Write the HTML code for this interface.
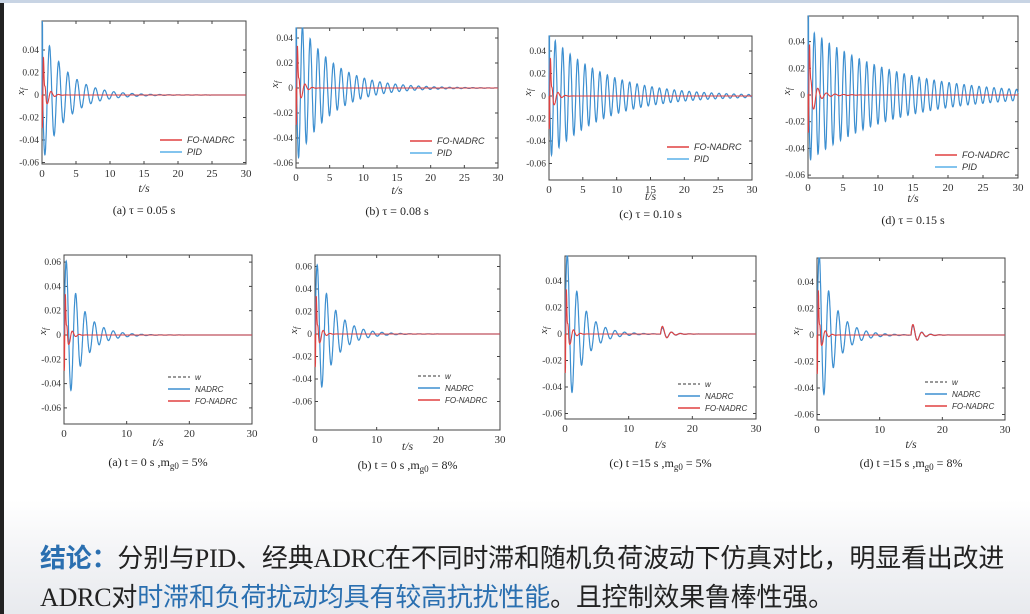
<!DOCTYPE html>
<html><head><meta charset="utf-8"><style>
html,body{margin:0;padding:0;}
body{width:1030px;height:614px;overflow:hidden;background:#fff;position:relative;font-family:"Liberation Serif","Noto Serif CJK SC",serif;}
#bot{position:absolute;left:0;top:500px;width:1030px;height:114px;background:linear-gradient(#fff,#f0f1f4 60%,#e8eaee);}
#edge{position:absolute;left:0;top:0;width:4px;height:614px;background:#222;}
#topl{position:absolute;left:0;top:0;width:1030px;height:3px;background:#c8d4e4;}
.t{position:absolute;font-family:"Liberation Serif","Noto Sans CJK SC",sans-serif;font-size:26px;color:#222;white-space:nowrap;letter-spacing:-0.2px;}
.b{color:#2a6fb0;font-weight:bold;}
.bl{color:#2a6fb0;}
svg{position:absolute;left:0;top:0;}
</style></head><body>
<div id="bot"></div><div id="edge"></div><div id="topl"></div>
<svg id="s" width="1030" height="500" font-family="Liberation Serif, serif"></svg>
<div class="t" style="left:40px;top:538px;"><span class="b">结论：</span>分别与PID、经典ADRC在不同时滞和随机负荷波动下仿真对比，明显看出改进</div>
<div class="t" style="left:40px;top:577px;">ADRC对<span class="bl">时滞和负荷扰动均具有较高抗扰性能</span>。且控制效果鲁棒性强。</div>
<script>
const s=document.getElementById('s');let h='';
function ch(c){
 const {x0,x1,y0,y1,yz,sc,ticks,cap,tsY,capY,leg,row}=c;
 const X=t=>x0+(x1-x0)*t/30, Y=v=>yz-v/0.02*sc;
 h+=`<rect x="${x0}" y="${y0}" width="${x1-x0}" height="${y1-y0}" fill="#fff" stroke="#444" stroke-width="1"/>`;
 const step=row==1?5:10;
 for(let t=0;t<=30;t+=step){h+=`<line x1="${X(t)}" x2="${X(t)}" y1="${y1}" y2="${y1-3}" stroke="#444"/><line x1="${X(t)}" x2="${X(t)}" y1="${y0}" y2="${y0+3}" stroke="#444"/><text x="${X(t)}" y="${y1+13}" font-size="11" text-anchor="middle" fill="#333">${t}</text>`;}
 for(const v of ticks){const y=Y(v);h+=`<line x1="${x0}" x2="${x0+3}" y1="${y}" y2="${y}" stroke="#444"/><line x1="${x1}" x2="${x1-3}" y1="${y}" y2="${y}" stroke="#444"/><text x="${x0-3}" y="${y+3}" font-size="9.5" text-anchor="end" fill="#333">${v==0?'0':v.toFixed(2)}</text>`;}
 h+=`<text x="${x0-22}" y="${yz+4}" font-size="11" font-style="italic" fill="#333" transform="rotate(-90 ${x0-22} ${yz})">x<tspan font-size="8" dy="2">f</tspan></text>`;
 h+=`<text x="${(x0+x1)/2}" y="${tsY}" font-size="12" font-style="italic" text-anchor="middle" fill="#333">t/s</text>`;
 h+=`<text x="${(x0+x1)/2}" y="${capY}" font-size="12" text-anchor="middle" fill="#222">${cap}</text>`;
 const clip=v=>Math.max(Math.min(v,(yz-y0)/sc*0.02),-(y1-yz)/sc*0.02);
 function path(f,col,w){let d='';for(let i=0;i<=1200;i++){const t=i*30/1200;d+=(i?'L':'M')+X(t).toFixed(1)+' '+Y(clip(f(t))).toFixed(1);}h+=`<path d="${d}" fill="none" stroke="${col}" stroke-width="${w}"/>`;}
 path(c.blue,'#3d8fd0',1.2);path(c.red,'#e04040',1.1);
 const [lx,ly]=leg;
 if(row==1){h+=`<line x1="${lx}" x2="${lx+22}" y1="${ly}" y2="${ly}" stroke="#e04040" stroke-width="1.5"/><text x="${lx+27}" y="${ly+3}" font-size="9" font-family="Liberation Sans" font-style="italic" fill="#333">FO-NADRC</text><line x1="${lx}" x2="${lx+22}" y1="${ly+12}" y2="${ly+12}" stroke="#5ab0e8" stroke-width="1.5"/><text x="${lx+27}" y="${ly+15}" font-size="9" font-family="Liberation Sans" font-style="italic" fill="#333">PID</text>`;}
 else{h+=`<line x1="${lx}" x2="${lx+22}" y1="${ly}" y2="${ly}" stroke="#333" stroke-dasharray="3 2"/><text x="${lx+27}" y="${ly+3}" font-size="8" font-family="Liberation Sans" font-style="italic" fill="#333">w</text><line x1="${lx}" x2="${lx+22}" y1="${ly+12}" y2="${ly+12}" stroke="#3d8fd0" stroke-width="1.5"/><text x="${lx+27}" y="${ly+15}" font-size="8" font-family="Liberation Sans" font-style="italic" fill="#333">NADRC</text><line x1="${lx}" x2="${lx+22}" y1="${ly+24}" y2="${ly+24}" stroke="#e04040" stroke-width="1.5"/><text x="${lx+27}" y="${ly+27}" font-size="8" font-family="Liberation Sans" font-style="italic" fill="#333">FO-NADRC</text>`;}
}
const osc=(A,tau,T,ph=0,t0=0)=>t=>t<t0?0:A*Math.exp(-(t-t0)/tau)*Math.sin(2*Math.PI*(t-t0)/T+ph);
const redA=t=>t<0.05?0:0.03*Math.exp(-t/0.6)*Math.sin(2*Math.PI*t/1.1)-0.06*Math.exp(-t/0.15)*Math.sin(2*Math.PI*t/0.3);
const sum=(...f)=>t=>f.reduce((a,g)=>a+g(t),0);
const T1=[0.04,0.02,0,-0.02,-0.04,-0.06], T2=[0.06,0.04,0.02,0,-0.02,-0.04,-0.06];
ch({row:1,x0:42,x1:246,y0:21,y1:164,yz:95,sc:22.5,ticks:T1,cap:'(a)  τ = 0.05 s',tsY:192,capY:214,leg:[160,140],
 blue:t=>t<0.1?0.08*Math.sin(t*30):-0.06*Math.exp(-t/3.5)*Math.sin(2*Math.PI*(t-0.1)/1.35),red:redA});
ch({row:1,x0:296,x1:498,y0:28,y1:168,yz:88,sc:25,ticks:T1,cap:'(b)  τ = 0.08 s',tsY:194,capY:215,leg:[410,141],
 blue:t=>t<0.1?0.08*Math.sin(t*30):-0.06*Math.exp(-t/5)*Math.sin(2*Math.PI*(t-0.1)/1.15),red:redA});
ch({row:1,x0:549,x1:752,y0:36,y1:180,yz:96,sc:22.5,ticks:T1,cap:'(c)  τ = 0.10 s',tsY:200,capY:218,leg:[667,147],
 blue:t=>t<0.1?0.08*Math.sin(t*30):-0.055*Math.exp(-t/8)*Math.sin(2*Math.PI*(t-0.1)/1.1),red:redA});
ch({row:1,x0:808,x1:1018,y0:16,y1:178,yz:95,sc:26.7,ticks:T1,cap:'(d)  τ = 0.15 s',tsY:202,capY:224,leg:[935,155],
 blue:t=>t<0.1?0.08*Math.sin(t*30):-0.05*Math.exp(-t/12)*Math.sin(2*Math.PI*(t-0.1)/1.07),red:t=>redA(t)+0.005*Math.exp(-t/2)*Math.sin(2*Math.PI*t/1.2)});
const bl2=(tau)=>t=>t<0.05?0:0.07*Math.exp(-t/tau)*Math.sin(2*Math.PI*t/1.5);
ch({row:2,x0:64,x1:252,y0:255,y1:424,yz:335,sc:24.3,ticks:T2,cap:'(a) t = 0 s ,m<tspan font-size="9" dy="3">g0</tspan><tspan dy="-3"> = 5%</tspan>',tsY:446,capY:466,leg:[168,377],
 blue:bl2(2.6),red:redA});
ch({row:2,x0:315,x1:500,y0:255,y1:430,yz:334,sc:22.5,ticks:T2,cap:'(b) t = 0 s ,m<tspan font-size="9" dy="3">g0</tspan><tspan dy="-3"> = 8%</tspan>',tsY:450,capY:469,leg:[418,376],
 blue:bl2(2.8),red:redA});
ch({row:2,x0:565,x1:756,y0:256,y1:419,yz:334,sc:26.5,ticks:T1,cap:'(c) t =15 s ,m<tspan font-size="9" dy="3">g0</tspan><tspan dy="-3"> = 5%</tspan>',tsY:448,capY:467,leg:[678,384],
 blue:sum(bl2(2.4),osc(0.006,1.2,1.4,0,15)),red:sum(redA,osc(0.008,1.0,1.4,0,15))});
ch({row:2,x0:817,x1:1005,y0:258,y1:420,yz:335,sc:26.5,ticks:T1,cap:'(d) t =15 s ,m<tspan font-size="9" dy="3">g0</tspan><tspan dy="-3"> = 8%</tspan>',tsY:448,capY:467,leg:[925,382],
 blue:sum(bl2(2.5),osc(0.009,1.2,1.4,0,15)),red:sum(redA,osc(0.011,1.0,1.4,0,15))});
s.innerHTML=h;
</script>
</body></html>
